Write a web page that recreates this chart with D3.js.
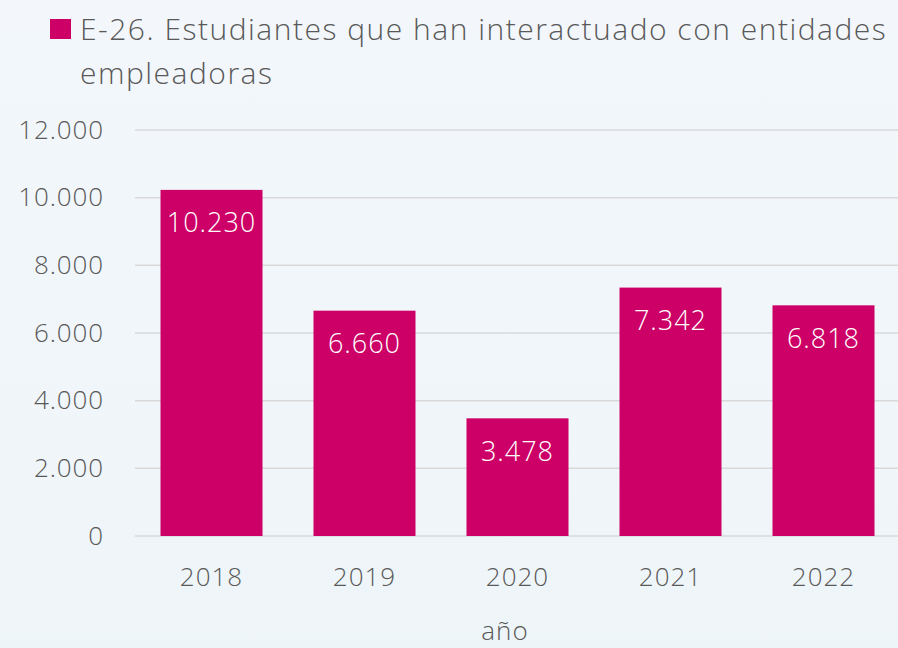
<!DOCTYPE html>
<html>
<head>
<meta charset="utf-8">
<script src="https://cdn.jsdelivr.net/npm/d3@7"></script>
<style>
  html, body { margin: 0; padding: 0; }
  body { width: 898px; height: 648px; overflow: hidden; }
  svg { display: block; font-family: "Open Sans", "Segoe UI", sans-serif; }
</style>
</head>
<body>
<svg id="chart" width="898" height="648"></svg>
<script>
// Students who interacted with employer entities, per year
const years = ["2018", "2019", "2020", "2021", "2022"];
const students = [10230, 6660, 3478, 7342, 6818];
const yTicks = [0, 2000, 4000, 6000, 8000, 10000, 12000];
const titleLines = ["E-26. Estudiantes que han interactuado con entidades", "empleadoras"];
const axisTitle = "año";

const W = 898, H = 648;
const margin = { left: 135, right: -2, top: 130, bottom: 112 };
const barColor = "#cc0066";
const textColor = "#595959";
const gridColor = "#d9d9d9";

const es = d3.formatLocale({ decimal: ",", thousands: ".", grouping: [3], currency: ["", " €"] });
const fmt = es.format(",d");

const svg = d3.select("#chart");

// soft background
const defs = svg.append("defs");
const grad = defs.append("linearGradient").attr("id", "bg").attr("x1", 0).attr("y1", 0).attr("x2", 0).attr("y2", 1);
grad.append("stop").attr("offset", "0%").attr("stop-color", "#f3f7fb");
grad.append("stop").attr("offset", "100%").attr("stop-color", "#eef5f8");
svg.append("rect").attr("width", W).attr("height", H).attr("fill", "url(#bg)");

const x = d3.scaleBand()
  .domain(years)
  .range([margin.left, W - margin.right])
  .paddingInner(1 / 3)
  .paddingOuter(1 / 6);

const y = d3.scaleLinear()
  .domain([0, 12000])
  .range([H - margin.bottom, margin.top]);

// gridlines
svg.append("g")
  .selectAll("line")
  .data(yTicks)
  .join("line")
  .attr("x1", margin.left)
  .attr("x2", W)
  .attr("y1", d => y(d))
  .attr("y2", d => y(d))
  .attr("stroke", gridColor)
  .attr("stroke-width", 1.5);

// y axis labels
const yAxis = svg.append("g")
  .attr("transform", `translate(${margin.left - 31},0)`)
  .call(d3.axisLeft(y).tickValues(yTicks).tickFormat(fmt).tickSize(0).tickPadding(0));
yAxis.select(".domain").remove();
yAxis.selectAll("text")
  .attr("fill", textColor)
  .attr("font-size", 26)
  .attr("font-weight", 300)
  .attr("letter-spacing", 0.9)
  .attr("font-family", "\"Open Sans\", sans-serif");

// bars
svg.append("g")
  .selectAll("rect")
  .data(students)
  .join("rect")
  .attr("x", (d, i) => x(years[i]))
  .attr("y", d => y(d))
  .attr("width", x.bandwidth())
  .attr("height", d => y(0) - y(d))
  .attr("fill", barColor);

// value labels inside bars
svg.append("g")
  .selectAll("text")
  .data(students)
  .join("text")
  .attr("x", (d, i) => x(years[i]) + x.bandwidth() / 2)
  .attr("y", d => y(d) + 42.5)
  .attr("text-anchor", "middle")
  .attr("fill", "#ffffff")
  .attr("font-size", 27)
  .attr("font-weight", 300)
  .attr("letter-spacing", 1)
  .text(d => fmt(d));

// x axis labels
const xAxis = svg.append("g")
  .attr("transform", `translate(0,${y(0)})`)
  .call(d3.axisBottom(x).tickSize(0).tickPadding(32));
xAxis.select(".domain").remove();
xAxis.selectAll("text")
  .attr("fill", textColor)
  .attr("font-size", 26)
  .attr("font-weight", 300)
  .attr("letter-spacing", 1)
  .attr("font-family", "\"Open Sans\", sans-serif");

// axis title
svg.append("text")
  .attr("x", 505)
  .attr("y", 640)
  .attr("text-anchor", "middle")
  .attr("fill", textColor)
  .attr("font-size", 26)
  .attr("font-weight", 300)
  .attr("letter-spacing", 1)
  .text(axisTitle);

// legend marker and title
svg.append("rect")
  .attr("x", 50).attr("y", 19)
  .attr("width", 21).attr("height", 20)
  .attr("fill", barColor);

svg.append("text")
  .attr("fill", textColor)
  .attr("font-size", 30)
  .attr("font-weight", 300)
  .attr("letter-spacing", 1.5)
  .selectAll("tspan")
  .data(titleLines)
  .join("tspan")
  .attr("x", 80)
  .attr("y", (d, i) => 40 + i * 44)
  .text(d => d);
</script>
</body>
</html>
